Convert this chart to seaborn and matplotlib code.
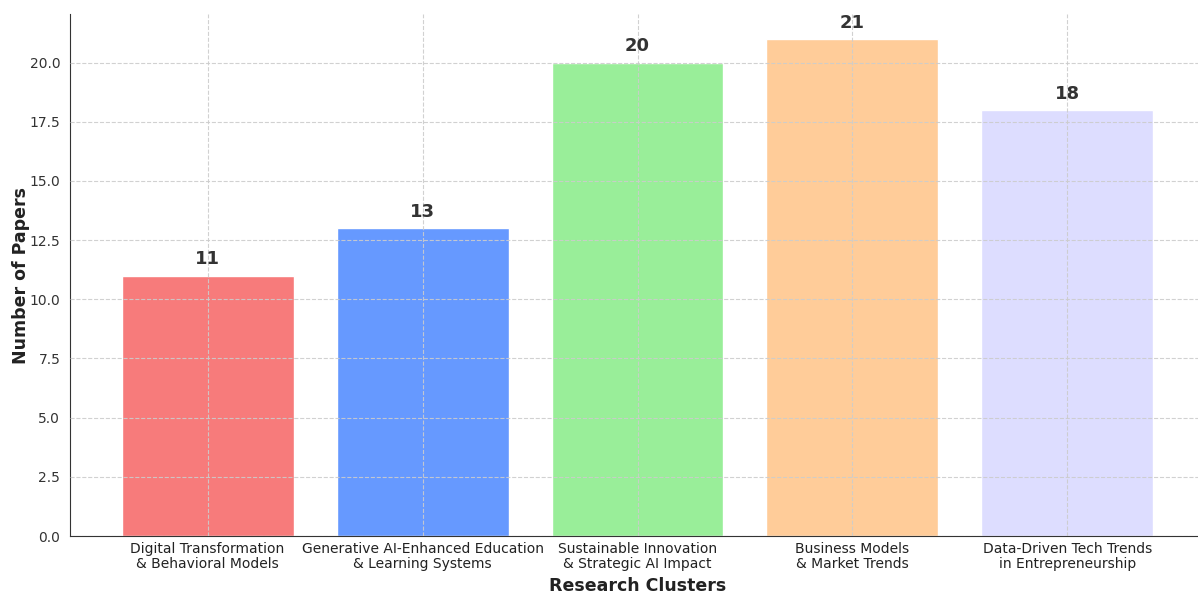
import matplotlib
matplotlib.use("Agg")
import matplotlib.pyplot as plt
import seaborn as sns
import pandas as pd

categories = [
    "Digital Transformation\n& Behavioral Models",
    "Generative AI-Enhanced Education\n& Learning Systems",
    "Sustainable Innovation\n& Strategic AI Impact",
    "Business Models\n& Market Trends",
    "Data-Driven Tech Trends\nin Entrepreneurship",
]
papers = [11, 13, 20, 21, 18]
colors = ["#F77B7B", "#6699FF", "#99EE99", "#FFCC99", "#DDDDFF"]

sns.set_style("white")
plt.rcParams["font.family"] = ["DejaVu Sans"]

df = pd.DataFrame({"cluster": categories, "papers": papers})

fig = plt.figure(figsize=(11.98, 5.94), dpi=100)
ax = fig.add_axes([70 / 1198, 1 - 536 / 594, (1205 - 70) / 1198, (536 - 14) / 594])

sns.barplot(data=df, x="cluster", y="papers", hue="cluster", palette=colors,
            saturation=1, legend=False, ax=ax, width=0.8)

ax.set_axisbelow(False)
ax.grid(True, linestyle="--", color="#cccccc", linewidth=0.8, alpha=0.9)
ax.set_ylim(0, 22.05)
ax.set_xlim(-0.64, 4.64)

for i, v in enumerate(papers):
    ax.text(i, v + 0.3, str(v), ha="center", va="bottom", fontsize=13,
            fontweight="bold", color="#333333")

ax.set_xlabel("Research Clusters", fontsize=12.5, fontweight="bold",
              color="#222222", labelpad=4)
ax.set_ylabel("Number of Papers", fontsize=12.5, fontweight="bold",
              color="#222222", labelpad=0)
ax.tick_params(axis="both", labelsize=10, colors="#333333", length=3.5)
ax.tick_params(axis="x", pad=1)
for lbl in ax.get_xticklabels():
    lbl.set_color("#222222")
    lbl.set_linespacing(1.1)

sns.despine(ax=ax)
ax.spines["left"].set_color("#333333")
ax.spines["bottom"].set_color("#333333")

fig.savefig("out.png", dpi=100)
